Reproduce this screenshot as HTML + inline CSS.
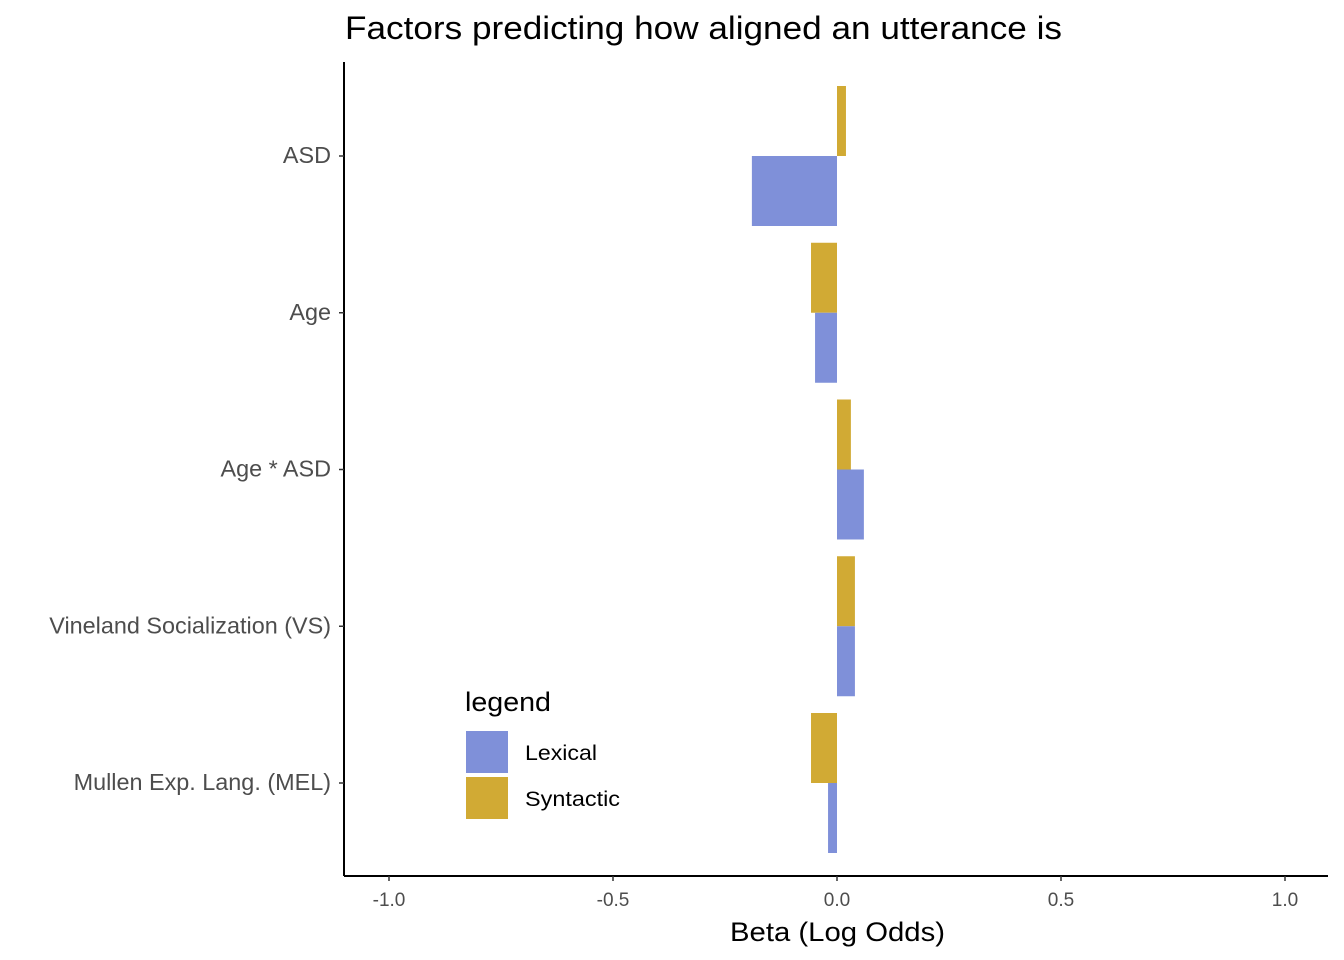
<!DOCTYPE html>
<html><head><meta charset="utf-8"><style>
html,body{margin:0;padding:0;background:#fff;}
svg{display:block;font-family:"Liberation Sans",Arial,sans-serif;}
</style></head><body>
<svg id="chart" width="1344" height="960">
<text x="345" y="39" font-size="32" textLength="717" lengthAdjust="spacingAndGlyphs" fill="#000">Factors predicting how aligned an utterance is</text>
<g id="bars"></g>
<g id="yaxis"></g>
<g id="xaxis"></g>
<text x="730" y="941" font-size="27" textLength="215" lengthAdjust="spacingAndGlyphs" fill="#000">Beta (Log Odds)</text>
<g>
<text x="465" y="711" font-size="27" textLength="86" lengthAdjust="spacingAndGlyphs" fill="#000">legend</text>
<rect x="466" y="731" width="42" height="42" fill="#7f90d9"/>
<text x="525" y="760" font-size="21" textLength="72" lengthAdjust="spacingAndGlyphs" fill="#000">Lexical</text>
<rect x="466" y="777" width="42" height="42" fill="#d1aa34"/>
<text x="525" y="806" font-size="21" textLength="95" lengthAdjust="spacingAndGlyphs" fill="#000">Syntactic</text>
</g>
</svg>
<script>
const categories = ["ASD","Age","Age * ASD","Vineland Socialization (VS)","Mullen Exp. Lang. (MEL)"];
const lexical = [-0.19,-0.049,0.06,0.04,-0.02];
const syntactic = [0.02,-0.058,0.031,0.04,-0.058];
const xTicks = [-1.0,-0.5,0.0,0.5,1.0];
const xTickLabels = ["-1.0","-0.5","0.0","0.5","1.0"];

const NS="http://www.w3.org/2000/svg";
const plotLeft=344,plotRight=1328,plotTop=62,plotBottom=876;
const xs=v=>837+v*448;
const ys=i=>156+i*156.75;
const bh=70;
function mk(tag,attrs,parent){const e=document.createElementNS(NS,tag);for(const k in attrs)e.setAttribute(k,attrs[k]);parent.appendChild(e);return e;}
const bars=document.getElementById('bars');
categories.forEach((c,i)=>{
  const s=syntactic[i], l=lexical[i];
  const r1=mk('rect',{x:Math.min(xs(0),xs(s)),y:ys(i)-bh,width:Math.abs(xs(s)-xs(0)),height:bh,fill:'#d1aa34'},bars);
  
  
  const r2=mk('rect',{x:Math.min(xs(0),xs(l)),y:ys(i),width:Math.abs(xs(l)-xs(0)),height:bh,fill:'#7f90d9'},bars);
  
  
});
const ya=document.getElementById('yaxis');
mk('line',{x1:plotLeft,x2:plotLeft,y1:plotTop,y2:plotBottom,stroke:'#000','stroke-width':2},ya);
categories.forEach((c,i)=>{
  mk('line',{x1:plotLeft-5,x2:plotLeft,y1:ys(i),y2:ys(i),stroke:'#333','stroke-width':1.5},ya);
  const t=mk('text',{x:plotLeft-13,y:ys(i)+7,'font-size':'23.4','text-anchor':'end',fill:'#4d4d4d'},ya);
  t.textContent=c;
  
  
});
const xa=document.getElementById('xaxis');
mk('line',{x1:plotLeft,x2:plotRight,y1:plotBottom,y2:plotBottom,stroke:'#000','stroke-width':2},xa);
xTicks.forEach((v,i)=>{
  mk('line',{x1:xs(v),x2:xs(v),y1:plotBottom,y2:plotBottom+5,stroke:'#333','stroke-width':1.5},xa);
  const t=mk('text',{x:xs(v),y:plotBottom+30,'font-size':'19','text-anchor':'middle',fill:'#4d4d4d'},xa);
  t.textContent=xTickLabels[i];
  
  
});
</script>
</body></html>
